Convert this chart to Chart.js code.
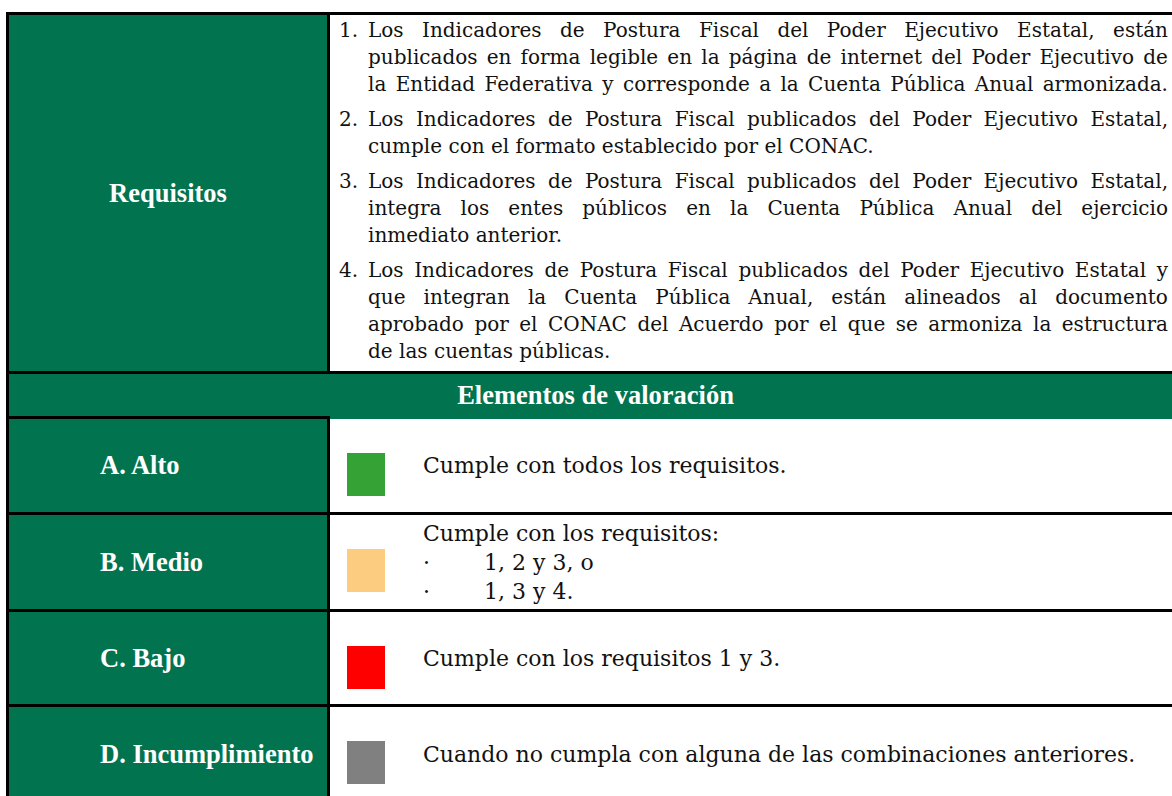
<!DOCTYPE html>
<html lang="es">
<head>
<meta charset="utf-8">
<title>Indicadores de Postura Fiscal</title>
<script src="https://cdn.jsdelivr.net/npm/chart.js@4.4.1/dist/chart.umd.min.js"></script>
<style>
  html, body { margin: 0; padding: 0; background: #fff; }
  body { width: 1172px; height: 796px; position: relative; overflow: hidden; }
  .bloque { position: absolute; }
  .verde { background: #02734f; }
  .linea { position: absolute; background: #000; }
  .etiqueta {
    position: absolute; color: #fff; display: flex; align-items: center;
    font: bold 26.5px "Liberation Serif", "Times New Roman", serif; white-space: nowrap;
  }
  .req { position: absolute; left: 339px; top: 17px; width: 829px; font: 20px "DejaVu Serif", serif; color: #111; }
  .req .item { position: relative; padding-left: 29px; margin-bottom: 8px; }
  .req .num { position: absolute; left: 0; top: 0; line-height: 27px; }
  .req .l { line-height: 27px; height: 27px; white-space: nowrap; }
  .req .j { display: flex; justify-content: space-between; }
  .desc { position: absolute; left: 423px; font: 22px "DejaVu Serif", serif; color: #111; display: flex; flex-direction: column; justify-content: center; white-space: nowrap; }
  .desc .v { display: flex; }
  .desc .v span:first-child { width: 61px; }
  canvas.muestra { position: absolute; }
</style>
</head>
<body>
<script>
// Textos de la tabla
const titulo = "Requisitos";
const encabezado = "Elementos de valoración";
const requisitos = [
  ["Los Indicadores de Postura Fiscal del Poder Ejecutivo Estatal, están",
   "publicados en forma legible en la página de internet del Poder Ejecutivo de",
   "la Entidad Federativa y corresponde a la Cuenta Pública Anual armonizada."],
  ["Los Indicadores de Postura Fiscal publicados del Poder Ejecutivo Estatal,",
   "cumple con el formato establecido por el CONAC."],
  ["Los Indicadores de Postura Fiscal publicados del Poder Ejecutivo Estatal,",
   "integra los entes públicos  en la Cuenta Pública Anual del ejercicio",
   "inmediato anterior."],
  ["Los Indicadores de Postura Fiscal publicados del Poder Ejecutivo Estatal y",
   "que integran la Cuenta Pública Anual, están alineados al documento",
   "aprobado por el CONAC del Acuerdo por el que se armoniza la estructura",
   "de las cuentas públicas."]
];
// la última línea del requisito 1 llena el renglón
const justificarUltima = [true, false, false, false];

const niveles = ["A. Alto", "B. Medio", "C. Bajo", "D. Incumplimiento"];
const coloresNivel = ["#35a235", "#fccd80", "#ff0000", "#808080"];
const valorNivel = [1, 1, 1, 1];
const descripciones = [
  "Cumple con todos los requisitos.",
  "Cumple con los requisitos:",
  "Cumple con los requisitos 1 y 3.",
  "Cuando no cumpla con alguna de las combinaciones anteriores."
];
const opcionesMedio = ["1, 2 y 3, o", "1, 3 y 4."];

// Geometría de la tabla (px)
const X0 = 6, XD = 327, XR = 1182, T = 3;
const Y_TOP = 12, Y_REQ = 371, Y_HDR = 416;
const Y_FILAS = [416, 512, 609, 704, 802];

function div(cls, x, y, w, h, texto) {
  const d = document.createElement("div");
  d.className = cls;
  Object.assign(d.style, { left: x + "px", top: y + "px", width: w + "px", height: h + "px" });
  if (texto !== undefined) d.textContent = texto;
  document.body.appendChild(d);
  return d;
}

// Fondos verdes
div("bloque verde", X0, Y_TOP, XD + T - X0, 800 - Y_TOP);
div("bloque verde", X0, Y_REQ, XR - X0, Y_HDR + T - Y_REQ);

// Líneas
div("linea", X0, Y_TOP, XR - X0, T);
div("linea", X0, Y_REQ, XR - X0, T);
div("linea", X0, Y_HDR, XD + T - X0, T);
Y_FILAS.slice(1, 4).forEach(y => div("linea", X0, y, XR - X0, T));
div("linea", X0, Y_TOP, T, 800 - Y_TOP);
div("linea", XD, Y_TOP, T, Y_REQ + T - Y_TOP);
div("linea", XD, Y_HDR, T, 800 - Y_HDR);

// Etiquetas
const et = div("etiqueta", X0 + T, Y_TOP + T, XD - X0 - T, Y_REQ - Y_TOP - T, titulo);
et.style.justifyContent = "center";
const enc = div("etiqueta", X0 + T, Y_REQ + T, XR - X0 - T, Y_HDR - Y_REQ - T, encabezado);
enc.style.justifyContent = "center";
niveles.forEach((n, i) => {
  div("etiqueta", 100, Y_FILAS[i] + T, 225, Y_FILAS[i + 1] - Y_FILAS[i] - T, n);
});

// Requisitos
const req = document.createElement("div");
req.className = "req";
requisitos.forEach((lineas, i) => {
  const item = document.createElement("div");
  item.className = "item";
  const num = document.createElement("div");
  num.className = "num";
  num.textContent = (i + 1) + ".";
  item.appendChild(num);
  lineas.forEach((txt, k) => {
    const l = document.createElement("div");
    const ultima = k === lineas.length - 1;
    if (!ultima || justificarUltima[i]) {
      l.className = "l j";
      txt.split(/\s+/).forEach(p => {
        const s = document.createElement("span");
        s.textContent = p;
        l.appendChild(s);
      });
    } else {
      l.className = "l";
      l.textContent = txt;
    }
    item.appendChild(l);
  });
  req.appendChild(item);
});
document.body.appendChild(req);

// Descripciones
descripciones.forEach((d, i) => {
  const top = Y_FILAS[i] + T;
  const h = Y_FILAS[i + 1] - Y_FILAS[i] - T;
  const box = div("desc", 423, top, 740, h);
  const p = document.createElement("div");
  p.textContent = d;
  box.appendChild(p);
  if (i === 1) {
    box.style.lineHeight = "29px";
    opcionesMedio.forEach(o => {
      const v = document.createElement("div");
      v.className = "v";
      v.innerHTML = "<span>·</span><span></span>";
      v.lastChild.textContent = o;
      box.appendChild(v);
    });
  }
});

// Muestras de color: una barra por nivel
niveles.forEach((n, i) => {
  const c = document.createElement("canvas");
  c.className = "muestra";
  c.width = 38;
  c.height = 43;
  c.style.left = "347px";
  c.style.top = (Y_FILAS[i] + 37) + "px";
  document.body.appendChild(c);
  new Chart(c.getContext("2d"), {
    type: "bar",
    data: {
      labels: [n],
      datasets: [{
        data: [valorNivel[i]],
        backgroundColor: coloresNivel[i],
        borderWidth: 0,
        barPercentage: 1,
        categoryPercentage: 1
      }]
    },
    options: {
      responsive: false,
      animation: false,
      events: [],
      layout: { padding: 0 },
      plugins: { legend: { display: false }, tooltip: { enabled: false } },
      scales: {
        x: { display: false },
        y: { display: false, min: 0, max: 1 }
      }
    }
  });
});
</script>
</body>
</html>
